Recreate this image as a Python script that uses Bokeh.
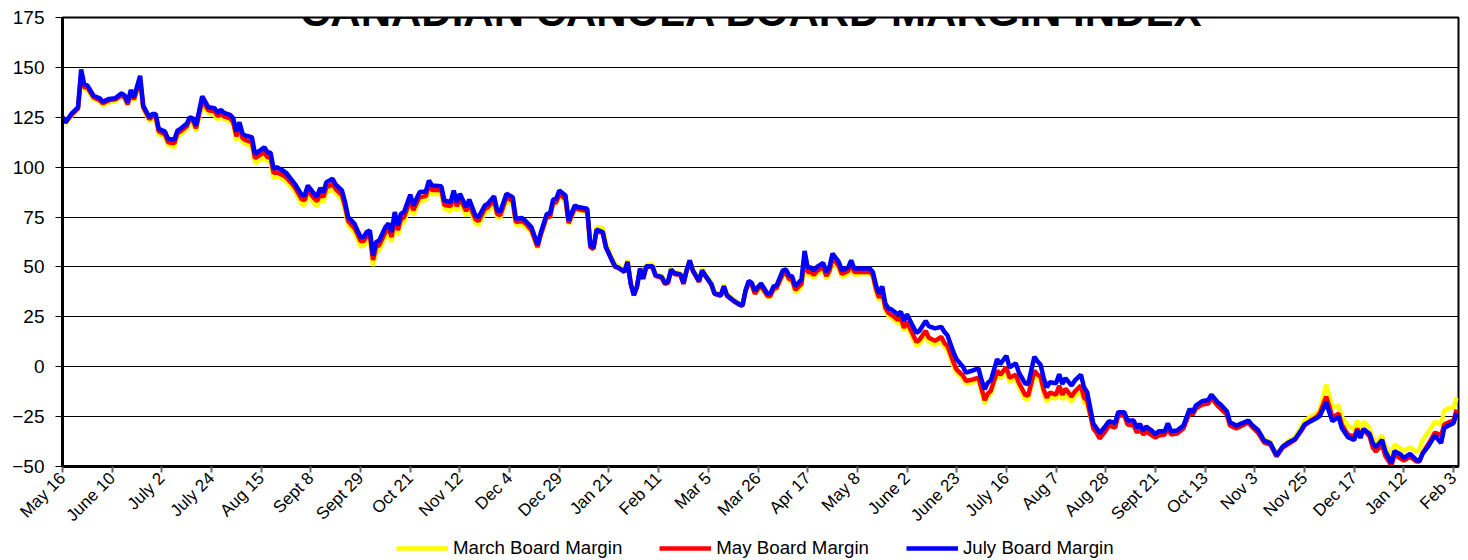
import math
from bokeh.plotting import figure
from bokeh.layouts import column
from bokeh.models import Range1d, FixedTicker, Legend, LegendItem, Label
from bokeh.embed import file_html
from bokeh.resources import INLINE

# ---------------- data ----------------
tick_labels = ["May 16", "June 10", "July 2", "July 24", "Aug 15", "Sept 8", "Sept 29",
               "Oct 21", "Nov 12", "Dec 4", "Dec 29", "Jan 21", "Feb 11", "Mar 5",
               "Mar 26", "Apr 17", "May 8", "June 2", "June 23", "July 16", "Aug 7",
               "Aug 28", "Sept 21", "Oct 13", "Nov 3", "Nov 25", "Dec 17", "Jan 12", "Feb 3"]
days_per_label = 16

day_index = [
    0, 1, 3, 5, 6, 7, 8, 10, 12, 13,
    15, 17, 19, 20, 21, 22, 23, 25, 26, 28,
    29, 30, 31, 33, 34, 36, 37, 38, 40, 41,
    42, 43, 45, 47, 49, 50, 51, 52, 54, 55,
    56, 57, 58, 59, 61, 62, 64, 65, 66, 67,
    68, 69, 71, 72, 74, 75, 77, 78, 79, 81,
    82, 83, 84, 85, 87, 88, 90, 91, 92, 94,
    95, 96, 97, 98, 99, 100, 101, 102, 104, 105,
    106, 107, 108, 109, 110, 112, 113, 115, 117, 118,
    119, 122, 123, 125, 126, 127, 128, 130, 131, 133,
    134, 136, 137, 139, 140, 141, 143, 145, 146, 148,
    149, 151, 153, 154,
    156, 157, 158, 159, 160, 162, 163, 165, 166, 169,
    170, 171, 172, 174, 175, 177, 178, 179, 181, 182,
    183, 184, 185, 186, 187, 188, 190, 191, 193, 194,
    195, 196, 197, 199, 200, 201, 202, 203, 205, 206,
    207, 209, 210, 212, 213, 214, 216, 218, 219, 220,
    221, 222, 223, 224, 225, 227, 228, 229, 230, 232,
    233, 234, 235, 236, 238, 239, 240, 241, 242, 243,
    245, 246, 247, 248, 250, 251, 253, 254, 255, 257,
    260, 261, 262, 263, 264, 265, 266, 267, 269, 270,
    271, 272, 273, 275, 276, 278, 279, 281, 283, 284,
    285, 287, 288, 290, 291, 293, 295, 296, 297, 298,
    299,
    301, 302, 304, 305, 307, 308, 310, 311, 313, 314,
    315, 316, 317, 318, 320, 321, 322, 323, 325, 326,
    328, 329, 330, 332, 333, 334, 336, 337, 339, 340,
    342, 343, 345, 346, 347, 348, 349, 351, 352, 353,
    355, 356, 357, 359, 361, 363, 364, 365, 367, 369,
    370, 372, 373, 375, 376, 378, 380, 382, 383, 385,
    387, 389, 391, 393, 395, 397, 399, 400, 402, 404,
    405, 407, 408, 409, 411, 412, 414, 416, 417, 418,
    419, 421, 422, 423, 425, 426, 428, 429, 431, 432,
    434, 436, 437, 438, 440, 442, 444, 445, 447, 448,
    449,
]

july_margin = [
    125, 122.5, 127, 130, 149, 141.5, 141, 135.8, 134.5, 132.8,
    134.2, 134.5, 137, 136, 132.5, 138.7, 135, 145.8, 130.8, 125,
    126.7, 126.7, 119.2, 117.8, 114.2, 113.7, 118.3, 119.2, 121.7, 125,
    124.5, 120.8, 135.5, 130, 129.5, 127.2, 128.8, 127.2, 126.2, 124.5,
    117.8, 122.5, 116.7, 115.8, 115, 106.7, 108.8, 110, 107.5, 107.2,
    99.2, 100, 98.3, 97.2, 93.3, 91.2, 86.2, 85.8, 90.8, 86.7,
    85.5, 89.5, 87.5, 92.5, 94.2, 91.2, 88.3, 82.5, 75, 71.7,
    68.3, 65, 65, 67.5, 68.3, 55.8, 62.5, 63.3, 70, 71.7,
    67.5, 77.5, 70.8, 76.7, 77.5, 86.2, 80.8, 87.5, 87.8, 93.3,
    90.8, 90.5, 83.3, 82.5, 88.3, 82.5, 86.7, 80, 83.8, 75.8,
    75, 80.8, 81.7, 85.5, 78.3, 77.8, 86.7, 85, 74.2, 74.5,
    73.3, 70, 61.2, 67,
    76.7, 76.7, 83.7, 84.2, 88.3, 85.8, 73.3, 80.8, 80, 79.2,
    60.8, 59.7, 68.7, 67.5, 60, 53.3, 50.3, 49.7, 47.5, 52.5,
    41.7, 35.8, 40, 49.2, 44.2, 50.3, 50.3, 45.8, 45, 42,
    42.5, 48.7, 47, 46.3, 42, 48.3, 53.3, 48.3, 43, 48.3,
    45.8, 41.3, 36.7, 35.8, 40.3, 35.8, 33.3, 31.3, 30.8, 38.3,
    43, 42, 38, 40, 41.7, 36.7, 36.7, 40.3, 40.8, 48.3,
    48.7, 45.8, 45.3, 40.3, 43.7, 58, 49.7, 49.7, 48.3, 50,
    52, 47.5, 50, 56.7, 52.5, 48.3, 49.7, 53.3, 49.2, 49.2,
    49.2, 47.5, 40.8, 36.7, 40.3, 31.7, 29.2, 28.7, 26.3, 27.5,
    23, 26.3, 23, 17, 18, 23, 20.3, 19.2, 20, 17.5,
    15.8, 7, 3.7, 0, -3, -2, -0.8, -6.7, -11.3, -8,
    -6.8,
    3.8, 1.3, 5.5, -0.3, 1.7, -2.8, -8.3, -8.7, 5, 2.7,
    1, -5.7, -10.3, -7.8, -8.3, -3.7, -8.7, -5.7, -9.5, -7,
    -4, -10.3, -12.8, -28.7, -30.7, -33.3, -29.5, -27.3, -28.3, -22.8,
    -22.8, -27, -27, -30.7, -28.7, -32, -30, -32.3, -34, -32.3,
    -32.3, -28.3, -32.3, -32, -29.5, -21.2, -22.8, -19.5, -17.3, -16.7,
    -14, -17.8, -19, -22.3, -27.8, -29.5, -28.3, -27, -29, -31.7,
    -37, -38.3, -44.5, -40, -37.8, -36.2, -31.7, -29, -27.3, -25.7,
    -24.5, -17.8, -22.8, -27.3, -25, -30.7, -35.3, -36.7, -32, -35.7,
    -31.2, -33.7, -38.3, -40.3, -36.7, -42.3, -48.3, -42.3, -44, -45.7,
    -43.7, -46.7, -47.3, -43.7, -39.5, -34.5, -38.3, -30.7, -29, -28.3,
    -23.3,
]

may_margin = [
    125, 122.5, 126.5, 129.5, 146, 140, 140, 135, 133.5, 132,
    133.5, 134, 136, 135, 131.5, 137.5, 134, 144, 130, 124,
    125.7, 125.5, 118, 116.5, 112.5, 112, 117, 118, 120.5, 124,
    123.5, 119.5, 133.5, 128.5, 128, 125.5, 127, 125.5, 124.5, 122.5,
    115.5, 120.5, 114.5, 113.5, 112.5, 104.5, 106.5, 107.5, 105, 105,
    97, 97.5, 96, 95, 91.5, 89.5, 84, 83.5, 88.5, 84.5,
    83, 87, 85, 90, 91.5, 89, 86, 80.5, 73, 69.5,
    66.5, 63, 63, 65.5, 66, 53.5, 60, 61, 67.5, 69.5,
    65, 74.5, 68.5, 74, 75, 83.5, 78.5, 85, 85.5, 91,
    88.5, 88.5, 81, 80.5, 86, 80.5, 84.5, 78, 81.5, 74,
    73, 79, 80, 83.5, 76.5, 76, 85, 83, 72.5, 73,
    72, 68.5, 60, 66,
    75.5, 75, 82, 82.5, 86.5, 84, 72, 79.5, 79, 78,
    60, 59, 68, 67, 60, 53, 50, 49.5, 47.5, 52.5,
    41.5, 36, 40, 48.5, 44, 50, 50, 45.5, 44.5, 41.5,
    42, 48, 46.5, 46, 41.5, 48, 53, 48, 42.5, 48,
    45.5, 41, 36.5, 35.5, 40, 35.5, 33, 31, 30.5, 38,
    42, 41, 36.5, 39, 40.5, 35.5, 35.5, 39, 39.5, 46.5,
    47, 44, 43.5, 38.5, 41.5, 55, 47.5, 47.5, 46, 48,
    50, 45.5, 48, 54.5, 50.5, 46.5, 48, 51.5, 47.5, 47.5,
    47.5, 46, 39, 34.5, 38, 29.5, 27, 26, 23.5, 24.5,
    19.5, 22.5, 19, 12.5, 13.5, 18, 14.5, 13, 15, 12,
    10.5, 2, -1.5, -4.5, -7, -6.5, -5.5, -11, -16.7, -13.5,
    -12,
    -2, -4, -0.3, -5.5, -4, -8, -14, -14.5, -2, -4,
    -5, -11.5, -15.5, -13, -14, -9.5, -14, -11, -15, -12.5,
    -9.5, -15.5, -17, -31, -33, -36, -32, -29.5, -30.5, -24.5,
    -24.5, -29, -29.5, -33, -31, -34, -32.5, -34.5, -35.5, -34.5,
    -34, -31, -34, -33.5, -31, -23, -24, -21, -19, -18.5,
    -15.5, -19.5, -21, -24, -29.5, -31, -29.5, -28, -30, -33,
    -38, -39, -45, -40.5, -38.5, -36.5, -32, -29.5, -27, -25,
    -23, -15, -20, -25.5, -23.5, -29, -34, -35, -31, -34.5,
    -31.5, -35, -40.5, -42.5, -39, -44.5, -49.5, -44, -46, -47,
    -45, -47.5, -47.5, -43.5, -38.5, -33, -34.5, -29, -27.5, -27,
    -21.5,
]

march_margin = [
    125, 122, 126, 129, 143, 139, 139, 134, 133, 131,
    132.5, 133, 135.5, 134.5, 131, 136.5, 133, 142.5, 129.5, 123,
    124.5, 124, 116.5, 115, 111, 110, 115.5, 116.5, 119, 122.5,
    122, 118, 131.5, 127, 126, 124, 125.5, 124, 123, 121,
    113.5, 118.5, 112.5, 111.5, 110.5, 102, 104, 105, 103, 102.5,
    94.5, 95.5, 94, 93, 89.5, 87.5, 81.5, 81, 86, 82,
    80.5, 84.5, 82.5, 87.5, 89, 87, 84, 78.5, 71, 67.5,
    64, 60.5, 60.5, 63, 63.5, 50.5, 57.5, 58.5, 65, 67,
    62.5, 72, 66, 71.5, 72.5, 81, 76, 83, 83.5, 88.5,
    86.5, 86.5, 79, 78, 83.5, 78, 82, 75.5, 79.5, 72,
    71, 77, 78, 81.5, 75, 74.5, 83, 81.5, 71, 71.5,
    70.5, 67.5, 59.5, 65.5,
    75, 74.5, 81.5, 82, 85.5, 83, 71.5, 79, 78.5, 77.5,
    60, 59, 70, 69.5, 62, 54.5, 51.5, 50.5, 48.5, 53.5,
    42, 36, 40.5, 49.5, 45, 51, 51.5, 46.5, 45.5, 42.5,
    43, 49.5, 47.5, 47, 42.5, 48.5, 53.5, 49, 43.5, 49,
    46.5, 42, 37.5, 36.5, 41, 36.5, 34, 31.5, 31, 38.5,
    42, 41, 36.5, 38.5, 40, 35, 35, 38.5, 39, 46,
    46, 43, 42.5, 37, 40, 53.5, 46, 46, 44.5, 46.5,
    48.5, 44, 46.5, 53, 49, 45, 46.5, 50, 46, 46.5,
    46.5, 45, 37.5, 33, 36, 28, 25.5, 24.5, 22, 22.5,
    18, 21, 17, 10.5, 11.5, 16, 12.5, 11, 13, 10,
    8.5, 0, -3, -6, -8.5, -8, -7, -13, -18.5, -15,
    -13.5,
    -3.5, -6, -2, -7.5, -6, -10, -16, -16.5, -3.7, -5.5,
    -7, -13.5, -17.5, -15.5, -16, -11.5, -16.5, -13.5, -17.5, -15,
    -12, -18, -19, -30.5, -32.5, -35, -31, -28.5, -29.5, -24,
    -24, -28.5, -28.5, -32, -30, -33.5, -31.5, -33.5, -35, -33.5,
    -33.5, -30, -33, -33, -30.5, -22.5, -23.5, -20.5, -18.5, -18,
    -15.5, -19, -20.5, -23.5, -29, -30.5, -29, -27.5, -29.5, -32,
    -36.5, -37.5, -44, -39.5, -37, -35, -30, -27, -25, -23.5,
    -21.5, -9, -15, -20.5, -19.5, -25, -29.5, -31.5, -27, -31,
    -27.5, -31, -35.5, -38, -34.5, -39.5, -44.5, -39, -41, -42,
    -40.5, -42.5, -41.5, -37, -32.5, -27.5, -29, -22, -20.5, -20.5,
    -15.5,
]

series_names = ["March Board Margin", "May Board Margin", "July Board Margin"]
series_colors = ["#FFFF00", "#FF0000", "#0000FF"]
series_values = [march_margin, may_margin, july_margin]
y_ticks = [-50, -25, 0, 25, 50, 75, 100, 125, 150, 175]
title_text = "CANADIAN CANOLA BOARD MARGIN INDEX"

assert len(day_index) == len(july_margin) == len(may_margin) == len(march_margin)

FONT = "Liberation Sans"
tick_days = [i * days_per_label for i in range(len(tick_labels))]

# ---------------- main chart ----------------
p = figure(width=1468, height=534, output_backend="svg", toolbar_location=None,
           x_range=Range1d(0, 449.6), y_range=Range1d(-50, 175),
           min_border_left=62, min_border_right=10, min_border_top=17, min_border_bottom=68)
p.background_fill_color = "white"
p.border_fill_color = "white"
p.outline_line_color = "black"
p.outline_line_width = 2

for vals, col in zip(series_values, series_colors):
    p.line(day_index, vals, line_color=col, line_width=4.5)

p.yaxis.ticker = FixedTicker(ticks=y_ticks)
p.yaxis.axis_line_width = 3
p.yaxis.axis_line_color = "black"
p.yaxis.major_tick_out = 7
p.yaxis.major_tick_in = 0
p.yaxis.major_tick_line_width = 1
p.yaxis.minor_tick_line_color = None
p.yaxis.major_label_text_font = FONT
p.yaxis.major_label_text_font_size = "19px"
p.yaxis.major_label_text_color = "black"
p.yaxis.major_label_standoff = 11

p.xaxis.ticker = FixedTicker(ticks=tick_days)
p.xaxis.major_label_overrides = {d: lab for d, lab in zip(tick_days, tick_labels)}
p.xaxis.major_label_orientation = math.pi / 4
p.xaxis.axis_line_width = 3
p.xaxis.axis_line_color = "black"
p.xaxis.major_tick_out = 6
p.xaxis.major_tick_in = 0
p.xaxis.major_tick_line_color = "#666666"
p.xaxis.major_tick_line_width = 2
p.xaxis.minor_tick_line_color = None
p.xaxis.major_label_text_font = FONT
p.xaxis.major_label_text_font_size = "17px"
p.xaxis.major_label_text_color = "black"
p.xaxis.major_label_standoff = 3

p.xgrid.visible = False
p.ygrid.grid_line_color = "black"
p.ygrid.grid_line_width = 1

# title (partly cut off at the top, as in the reference)
title = Label(x=221.9, y=175, text=title_text, text_font=FONT, text_font_size="42px",
              text_font_style="bold", text_align="center", text_baseline="alphabetic",
              y_offset=6, text_color="black")
p.add_layout(title)

# ---------------- legend strip (its frame is aligned with the chart's frame) ----------------
leg = figure(width=1468, height=26, output_backend="svg", toolbar_location=None,
             x_axis_type=None, y_axis_type=None,
             x_range=Range1d(0, 449.6), y_range=Range1d(1000, 1001),  # series lie outside this view
             min_border_left=62, min_border_right=10, min_border_top=0, min_border_bottom=0)
leg.outline_line_color = None
leg.background_fill_color = "white"
leg.border_fill_color = "white"
leg.xgrid.visible = False
leg.ygrid.visible = False
items = []
for name, vals, col in zip(series_names, series_values, series_colors):
    r = leg.line(day_index, vals, line_color=col, line_width=4.5)
    items.append(LegendItem(label=name, renderers=[r]))
legend = Legend(items=items, orientation="horizontal", location=(334, 1),
                glyph_width=52, glyph_height=16, label_standoff=5, spacing=37,
                padding=0, margin=0, border_line_color=None,
                background_fill_alpha=0, label_text_font=FONT,
                label_text_font_size="18.7px", label_text_color="black")
leg.add_layout(legend)

layout = column(p, leg, spacing=0)
open("out.html", "w").write(file_html(layout, INLINE))
